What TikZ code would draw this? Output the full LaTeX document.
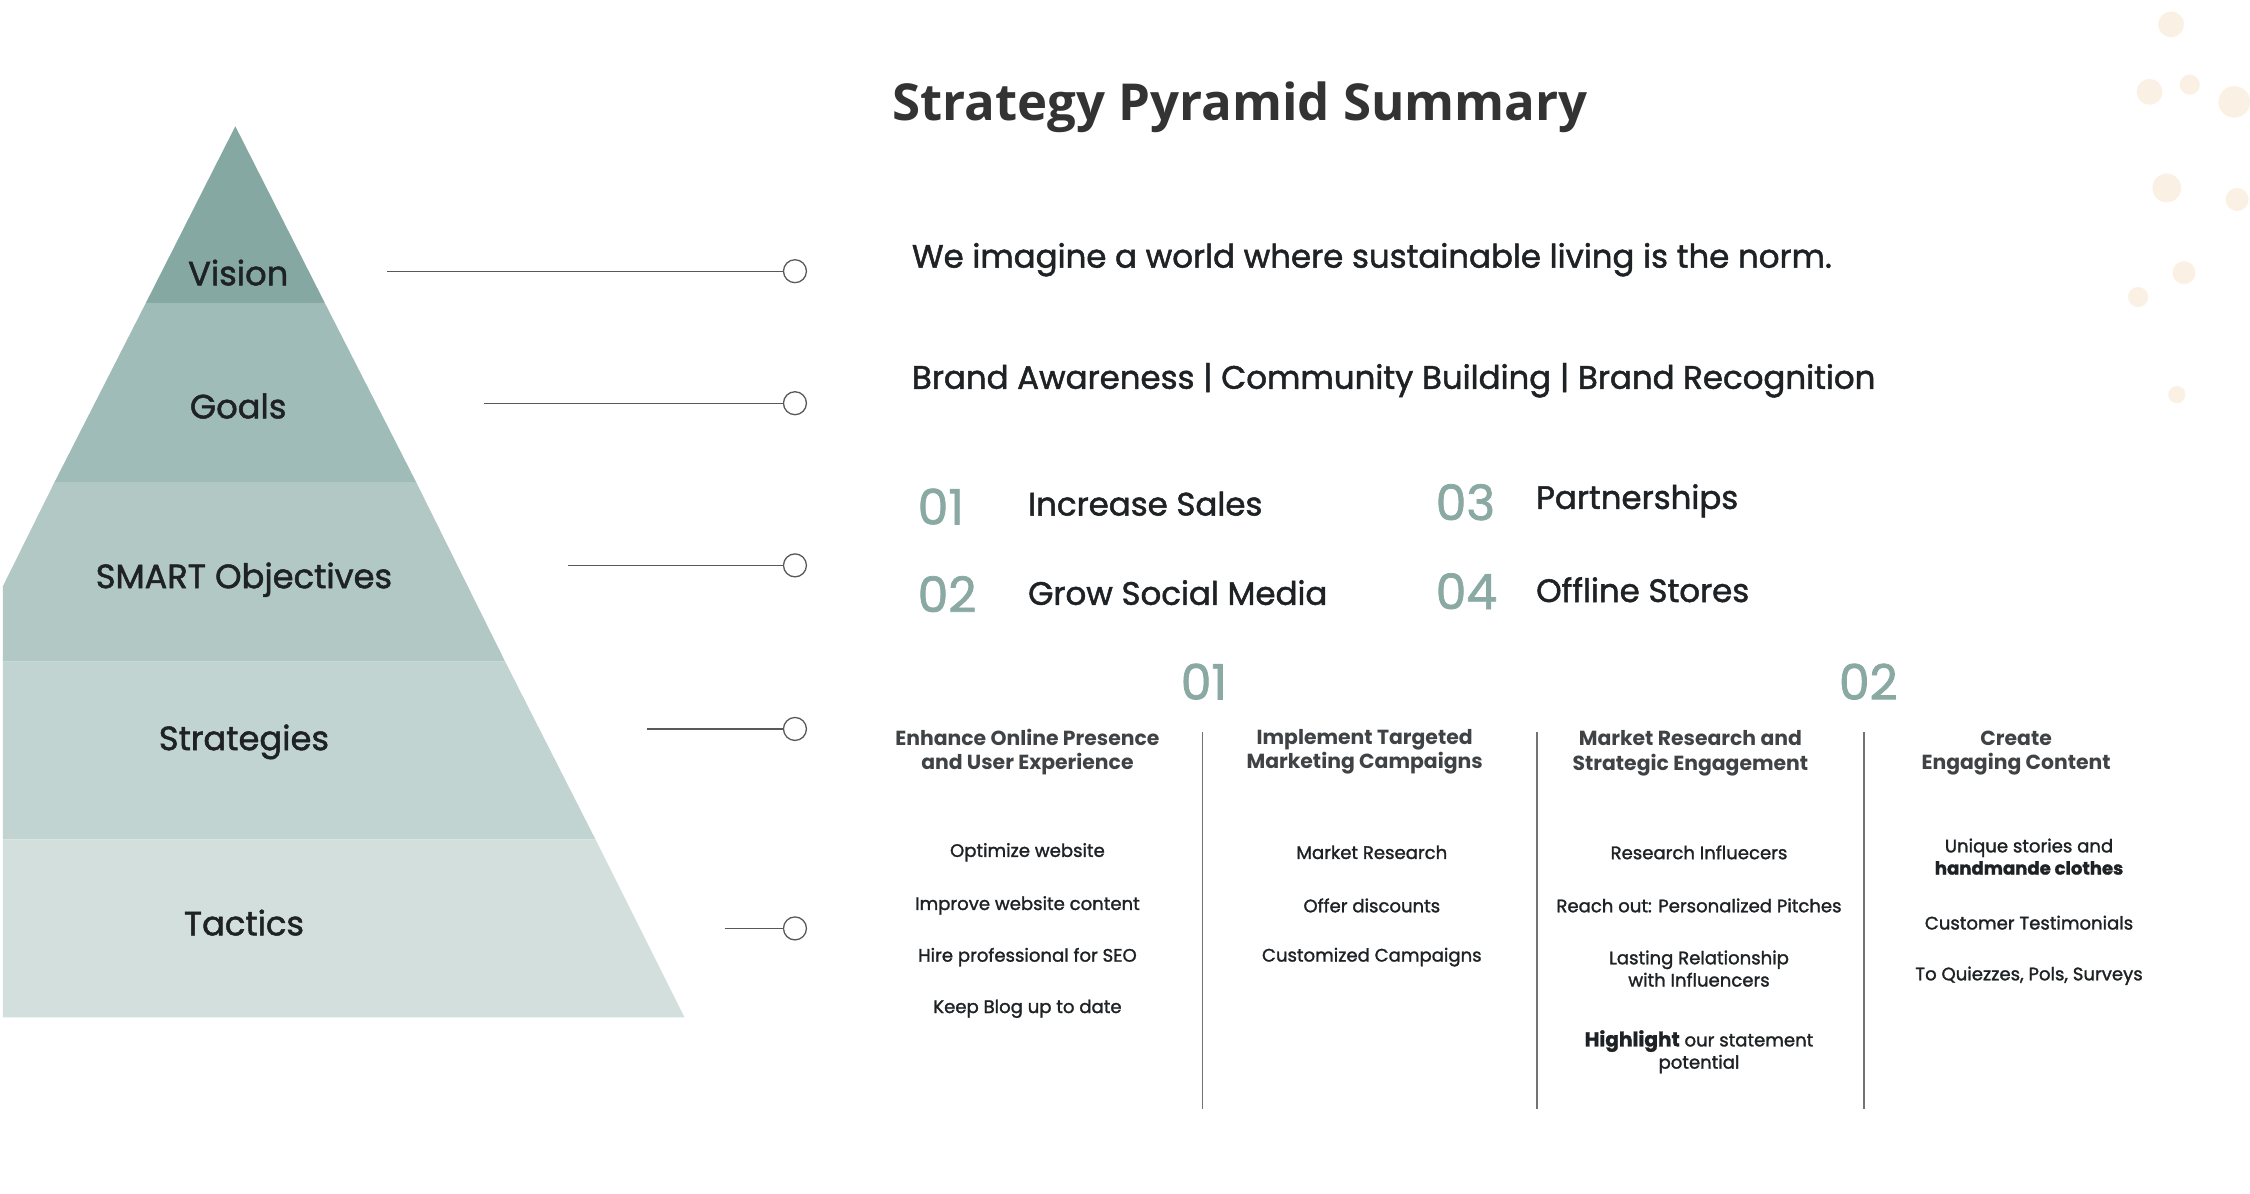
\documentclass[tikz,border=0pt]{standalone}
\usepackage{fontspec}
\setmainfont{Poppins}
\newfontfamily\pmed[FakeBold=1.5]{Poppins}
\newfontfamily\titlefont{Open Sans}
\definecolor{c1}{HTML}{86A8A2}
\definecolor{c2}{HTML}{A0BCB9}
\definecolor{c3}{HTML}{B2C8C4}
\definecolor{c4}{HTML}{C2D4D1}
\definecolor{c5}{HTML}{D2DFDD}
\definecolor{numc}{HTML}{8AA9A3}
\definecolor{txt}{HTML}{1E2224}
\definecolor{dotc}{HTML}{FAF1E4}
\begin{document}
\begin{tikzpicture}[x=1pt,y=-1pt,
  lvl/.style={font=\pmed\fontsize{23.5}{26}\selectfont, text=txt},
  conn/.style={draw=black!65, line width=0.9pt},
  ring/.style={circle, draw=black!65, line width=0.9pt, fill=white, minimum size=16pt, inner sep=0pt},
  big/.style={font=\pmed\fontsize{22.6}{25}\selectfont, text=txt, anchor=west},
  num/.style={font=\pmed\fontsize{34}{36}\selectfont, text=numc, anchor=west},
  hdr/.style={font=\bfseries\fontsize{14.2}{17}\selectfont, text=txt!85, align=center},
  item/.style={font=\pmed\fontsize{12.6}{15.5}\selectfont, text=txt, align=center},
  sep/.style={draw=black!55, line width=1pt}]
\fill[white] (0,0) rectangle (1568,832);
\useasboundingbox (0,0) rectangle (1568,832);
% dots
\foreach \x/\y/\r in {1513/17/9,1498/64/9,1526/59/7,1557/71/11,1510/131/10,1559/139/8,1522/190/8,1490/207/7,1517/275/6}
  \fill[dotc] (\x,\y) circle (\r);
% pyramid bands
\begin{scope}
\clip (2,0) rectangle (1568,832);
\fill[c1] (164,88) -- (226.3,211) -- (101.7,211) -- cycle;
\fill[c2] (101.7,211) -- (226.3,211) -- (290,336) -- (38,336) -- cycle;
\fill[c3] (38,336) -- (290,336) -- (352,461) -- (-24,461) -- cycle;
\fill[c4] (-24,461) -- (352,461) -- (415,585) -- (-87,585) -- cycle;
\fill[c5] (-87,585) -- (415,585) -- (477,709) -- (-149,709) -- cycle;
\end{scope}
\node[lvl] (lv) at (166,190) {Vision};
\node[lvl] (lg) at (166,283) {Goals};
\node[lvl] (ls) at (170,404) {SMART Objectives};
\node[lvl] (lst) at (170,517) {Strategies};
\node[lvl] (lt) at (170,643) {Tactics};
% connectors
\foreach \n/\xs/\y in {a/270/189,b/337/281,c/396/394,d/451/508,e/505/647}{
  \coordinate (s\n) at (\xs,\y);
  \node[ring] (r\n) at (554,\y) {};
  \draw[conn] (s\n) -- (r\n);
}
% title
\node[font=\titlefont\fontsize{35.5}{38}\selectfont\bfseries, text=black!80] (title) at (864,75) {Strategy Pyramid Summary};
\node[big] (vs) at (632,181) {We imagine a world where sustainable living is the norm.};
\node[big] (gs) at (632,265) {Brand Awareness | Community Building | Brand Recognition};
\node[num] (n1) at (636,353) {01};
\node[big] (t1) at (713,351) {Increase Sales};
\node[num] (n2) at (636,414) {02};
\node[big] (t2) at (713,413) {Grow Social Media};
\node[num] (n3) at (997,350) {03};
\node[big] (t3) at (1067,349) {Partnerships};
\node[num] (n4) at (997,412) {04};
\node[big] (t4) at (1067,411) {Offline Stores};
\node[num, anchor=center] (b1) at (839,475) {01};
\node[num, anchor=center] (b2) at (1302,475) {02};
% separators
\foreach \x/\n in {838/p,1071/q,1299/r}{
  \coordinate (\n1) at (\x,510); \coordinate (\n2) at (\x,773);
  \draw[sep] (\n1) -- (\n2);
}
% headers
\node[hdr] (h1) at (716,524) {Enhance Online Presence\\and User Experience};
\node[hdr] (h2) at (951,524) {Implement Targeted\\Marketing Campaigns};
\node[hdr] (h3) at (1178,525) {Market Research and\\Strategic Engagement};
\node[hdr] (h4) at (1405,525) {Create\\Engaging Content};
% items
\node[item] (i11) at (716,594) {Optimize website};
\node[item] (i12) at (716,631) {Improve website content};
\node[item] (i13) at (716,667) {Hire professional for SEO};
\node[item] (i14) at (716,703) {Keep Blog up to date};
\node[item] (i21) at (956,594) {Market Research};
\node[item] (i22) at (956,631) {Offer discounts};
\node[item] (i23) at (956,667) {Customized Campaigns};
\node[item] (i31) at (1184,594) {Research Influecers};
\node[item] (i32) at (1184,631) {Reach out: Personalized Pitches};
\node[item] (i33) at (1184,675) {Lasting Relationship\\with Influencers};
\node[item] (i34) at (1184,733) {{\fontsize{14}{15.5}\selectfont\bfseries Highlight} our statement\\potential};
\node[item] (i41) at (1414,597) {Unique stories and\\{\bfseries handmande clothes}};
\node[item] (i42) at (1414,643) {Customer Testimonials};
\node[item] (i43) at (1414,680) {To Quiezzes, Pols, Surveys};
\end{tikzpicture}
\end{document}
